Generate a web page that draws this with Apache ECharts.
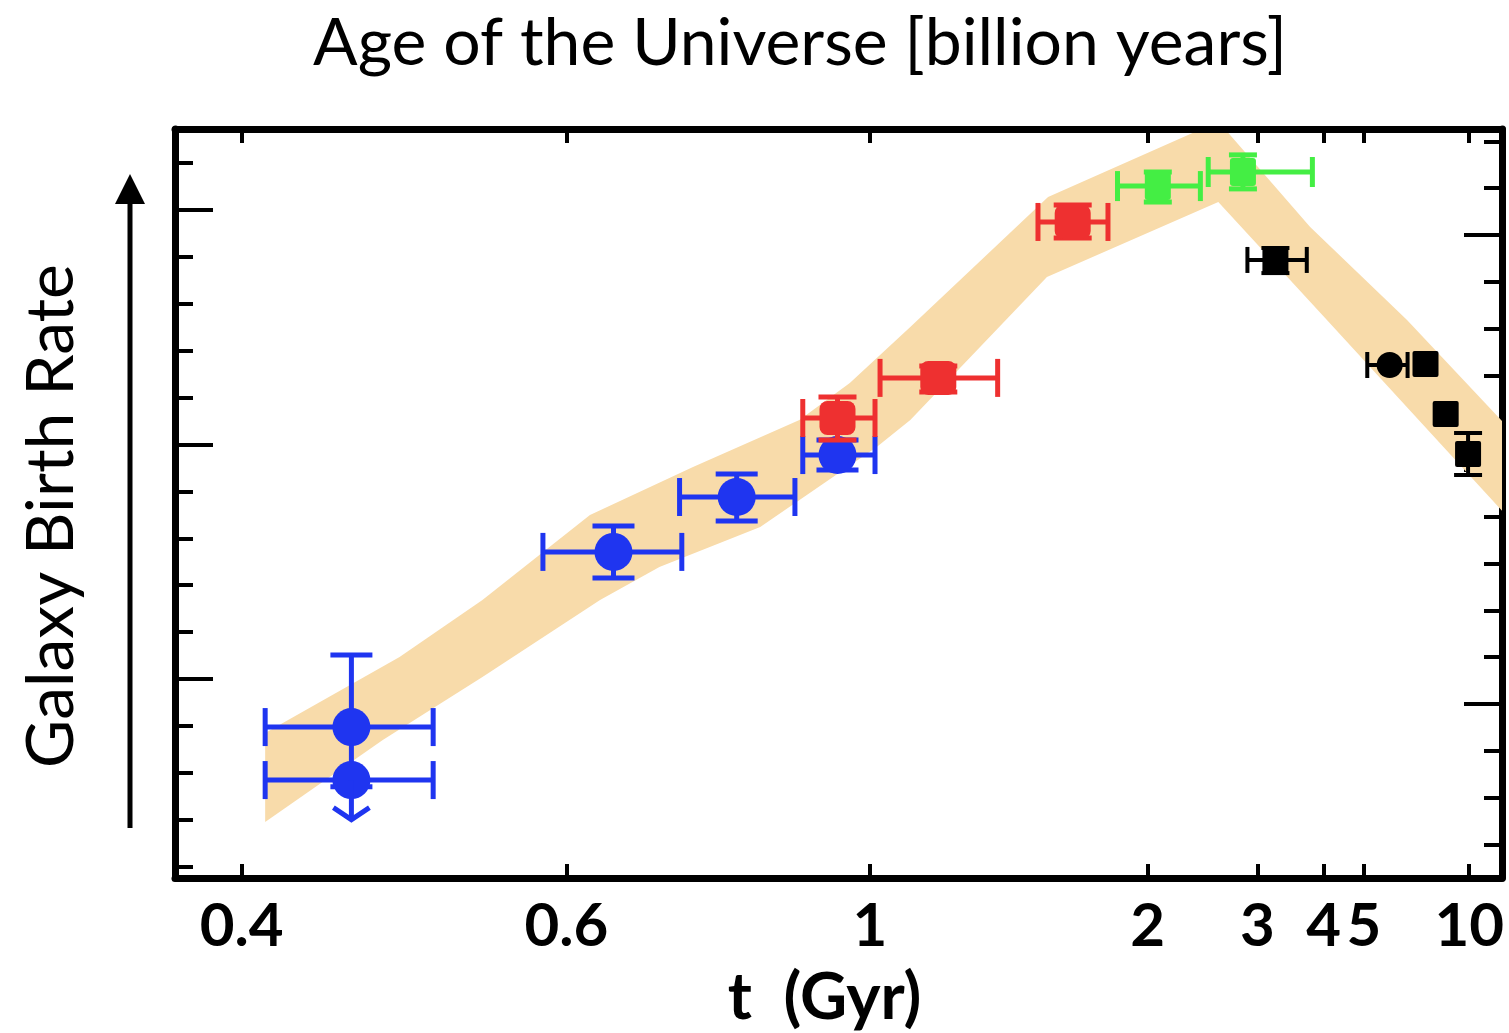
<!DOCTYPE html>
<html><head><meta charset="utf-8">
<script src="https://cdn.jsdelivr.net/npm/echarts/dist/echarts.min.js"></script>
<style>html,body{margin:0;padding:0;background:#fff}#chart{width:1509px;height:1033px}</style>
</head><body><div id="chart"></div>
<script>
// ---------- text ----------
const titleText = 'Age of the Universe [billion years]';
const xAxisName = 't  (Gyr)';
const yAxisName = 'Galaxy Birth Rate';

// ---------- x axis: redshift position, labelled with cosmic age ----------
const tickAgeLabels = ['0.4', '0.6', '1', '2', '3', '4', '5', '10'];
const tickRedshift  = [11.31, 8.41, 5.70, 3.22, 2.24, 1.65, 1.29, 0.35];

// ---------- y axis ticks (log birth rate) ----------
const leftMinorTicks  = [-3.8, -3.6, -3.4, -3.2, -3.0, -2.8, -2.6, -2.4, -2.2, -2.0, -1.8, -1.6, -1.4, -1.2, -1.0, -0.8];
const leftMajorTicks  = [-3, -2, -1];
const rightMinorTicks = [-3.707, -3.507, -3.307, -3.107, -2.907, -2.707, -2.507, -2.307, -2.107, -1.907, -1.707, -1.507, -1.307, -1.107, -0.907, -0.707];
const rightMajorTicks = [-3.107, -2.107, -1.107];

// ---------- shaded model band: [redshift, log rate] ----------
const bandUpper = [[11.10, -3.230], [9.90, -2.906], [9.16, -2.663], [8.20, -2.301], [7.28, -2.096], [6.33, -1.896], [5.88, -1.738], [5.34, -1.499], [4.11, -0.945], [2.82, -0.672], [2.50, -0.672], [1.77, -1.072], [0.905, -1.469], [0.057, -1.900]];
const bandLower = [[11.10, -3.610], [10.05, -3.260], [9.16, -2.991], [8.11, -2.663], [7.58, -2.522], [6.68, -2.352], [5.64, -2.011], [5.34, -1.896], [4.12, -1.286], [2.59, -0.966], [1.62, -1.469], [0.057, -2.283]];

// ---------- measurements: [z, logRate, zErrHigh, zErrLow, rateLow, rateHigh] ----------
const bluePoints = [
  [10.33, -3.205, 11.10, 9.60, -3.460, -2.898],
  [10.33, -3.431, 11.10, 9.60],
  [7.99, -2.458, 8.62, 7.38, -2.569, -2.348],
  [6.89, -2.224, 7.40, 6.37, -2.326, -2.126],
  [5.99, -2.045, 6.30, 5.655, -2.109, -1.981]
];
// upper limit: [z, logRate, arrowTip]
const blueUpperLimits = [[10.33, -3.431, -3.600]];
const redPoints = [
  [5.99, -1.887, 6.30, 5.655, -1.981, -1.797],
  [5.09, -1.716, 5.61, 4.56, -1.776, -1.665],
  [3.89, -1.051, 4.20, 3.575, -1.119, -0.979]
];
const greenPoints = [
  [3.13, -0.898, 3.49, 2.75, -0.966, -0.838],
  [2.37, -0.838, 2.68, 1.75, -0.910, -0.765]
];
const blackSquarePoints = [
  [2.08, -1.213, 2.33, 1.80, -1.269, -1.162],
  [0.74, -1.657],
  [0.56, -1.870],
  [0.36, -2.041, 0.36, 0.36, -2.130, -1.951]
];
const blackCirclePoints = [
  [1.06, -1.661, 1.26, 0.90]
];

const X_MIN = 0.057, X_MAX = 11.905;
const Y_MIN = -3.8486, Y_MAX = -0.6546;
const FONT = 'Lato';

function errRender(o) {
  return function (params, api) {
    const z = api.value(0), v = api.value(1);
    const zl = api.value(2), zh = api.value(3), vl = api.value(4), vh = api.value(5);
    const c = api.coord([z, v]);
    const st = { stroke: o.color, lineWidth: o.lw };
    const ch = [];
    const line = (x1, y1, x2, y2) => ch.push({ type: 'line', shape: { x1, y1, x2, y2 }, style: st });
    if (isFinite(zl) && isFinite(zh) && zl !== zh) {
      const a = api.coord([zl, v]), b = api.coord([zh, v]);
      line(a[0], c[1], b[0], c[1]);
      line(a[0], c[1] - o.xcap / 2, a[0], c[1] + o.xcap / 2);
      line(b[0], c[1] - o.xcap / 2, b[0], c[1] + o.xcap / 2);
    }
    if (isFinite(vl) && isFinite(vh) && vl !== vh) {
      const lo = api.coord([z, vl]), hi = api.coord([z, vh]);
      line(c[0], lo[1], c[0], hi[1]);
      line(c[0] - o.ycap / 2, lo[1], c[0] + o.ycap / 2, lo[1]);
      line(c[0] - o.ycap / 2, hi[1], c[0] + o.ycap / 2, hi[1]);
    }
    if (o.shape === 'circle') {
      ch.push({ type: 'circle', shape: { cx: c[0], cy: c[1], r: o.w / 2 }, style: { fill: o.color } });
    } else {
      ch.push({ type: 'rect', shape: { x: c[0] - o.w / 2, y: c[1] - o.h / 2, width: o.w, height: o.h, r: o.r || 0 }, style: { fill: o.color } });
    }
    return { type: 'group', children: ch };
  };
}

function limitRender(color, lw) {
  return function (params, api) {
    const c = api.coord([api.value(0), api.value(1)]);
    const t = api.coord([api.value(0), api.value(2)]);
    const st = { stroke: color, lineWidth: lw };
    return { type: 'group', children: [
      { type: 'line', shape: { x1: c[0], y1: c[1], x2: c[0], y2: t[1] }, style: st },
      { type: 'polyline', shape: { points: [[c[0] - 18, t[1] - 12], [c[0], t[1]], [c[0] + 18, t[1] - 12]] }, style: { stroke: color, lineWidth: lw, fill: null } }
    ] };
  };
}

function bandRender(params, api) {
  const pts = bandUpper.map(p => api.coord(p)).concat(bandLower.slice().reverse().map(p => api.coord(p)));
  return { type: 'polygon', shape: { points: pts }, style: { fill: '#F8DBAA' } };
}

const labelFor = v => {
  for (let i = 0; i < tickRedshift.length; i++) if (Math.abs(tickRedshift[i] - v) < 1e-6) return tickAgeLabels[i];
  return '';
};

const chart = echarts.init(document.getElementById('chart'), null, { renderer: 'canvas' });
const xBase = {
  type: 'value', inverse: true, min: X_MIN, max: X_MAX,
  splitLine: { show: false },
  axisLine: { show: true, onZero: false, lineStyle: { color: '#000', width: 7 } },
  axisTick: { show: true, inside: true, length: 14, customValues: tickRedshift, lineStyle: { color: '#000', width: 4 } }
};
const yBase = {
  type: 'value', min: Y_MIN, max: Y_MAX, splitLine: { show: false }, axisLabel: { show: false }
};
chart.setOption({
  backgroundColor: '#fff',
  animation: false,
  title: {
    text: titleText, left: 795, top: 6, textAlign: 'center',
    textStyle: { fontFamily: FONT, fontSize: 66, fontWeight: 'normal', color: '#000' }
  },
  grid: { left: 175, right: 7, top: 129, bottom: 155, containLabel: false, outerBoundsMode: 'none' },
  xAxis: [
    Object.assign({}, xBase, {
      position: 'bottom',
      name: xAxisName, nameLocation: 'middle', nameGap: 88,
      nameTextStyle: { fontFamily: FONT, fontSize: 65, color: '#000', fontWeight: 'bold', padding: [0, 28, 0, 0] },
      axisLabel: { show: true, margin: 19, customValues: tickRedshift, formatter: labelFor,
        fontFamily: FONT, fontSize: 60, fontWeight: 'bold', color: '#000' }
    }),
    Object.assign({}, xBase, { position: 'top', axisLabel: { show: false } })
  ],
  yAxis: [
    Object.assign({}, yBase, { position: 'left',
      axisLine: { show: true, onZero: false, lineStyle: { color: '#000', width: 7 } },
      axisTick: { show: true, inside: true, length: 18, customValues: leftMinorTicks, lineStyle: { color: '#000', width: 4 } } }),
    Object.assign({}, yBase, { position: 'left',
      axisLine: { show: false },
      axisTick: { show: true, inside: true, length: 38, customValues: leftMajorTicks, lineStyle: { color: '#000', width: 4 } } }),
    Object.assign({}, yBase, { position: 'right',
      axisLine: { show: true, onZero: false, lineStyle: { color: '#000', width: 7 } },
      axisTick: { show: true, inside: true, length: 18, customValues: rightMinorTicks, lineStyle: { color: '#000', width: 4 } } }),
    Object.assign({}, yBase, { position: 'right',
      axisLine: { show: false },
      axisTick: { show: true, inside: true, length: 38, customValues: rightMajorTicks, lineStyle: { color: '#000', width: 4 } } })
  ],
  graphic: [
    { type: 'line', shape: { x1: 130, y1: 828, x2: 130, y2: 195 }, style: { stroke: '#000', lineWidth: 5 } },
    { type: 'polygon', shape: { points: [[130, 174], [115, 204], [145, 204]] }, style: { fill: '#000' } },
    { type: 'text', x: 52, y: 516, rotation: Math.PI / 2,
      style: { text: yAxisName, fontFamily: FONT, fontSize: 66, fill: '#000',
        textAlign: 'center', textVerticalAlign: 'middle', align: 'center', verticalAlign: 'middle' } }
  ],
  series: [
    { type: 'custom', name: 'band', data: [bandUpper[0]], renderItem: bandRender, z: 1, silent: true },
    { type: 'custom', name: 'blue', data: bluePoints, z: 3,
      renderItem: errRender({ color: '#1F35F0', lw: 5, xcap: 38, ycap: 42, shape: 'circle', w: 38 }) },
    { type: 'custom', name: 'blueLimit', data: blueUpperLimits, z: 3, renderItem: limitRender('#1F35F0', 5) },
    { type: 'custom', name: 'red', data: redPoints, z: 4,
      renderItem: errRender({ color: '#EE3030', lw: 5, xcap: 38, ycap: 38, shape: 'rect', w: 36, h: 34, r: 8 }) },
    { type: 'custom', name: 'green', data: greenPoints, z: 4,
      renderItem: errRender({ color: '#44EE44', lw: 5, xcap: 30, ycap: 28, shape: 'rect', w: 26, h: 28, r: 3 }) },
    { type: 'custom', name: 'blackSq', data: blackSquarePoints, z: 4,
      renderItem: errRender({ color: '#000', lw: 4, xcap: 26, ycap: 28, shape: 'rect', w: 26, h: 26, r: 2 }) },
    { type: 'custom', name: 'blackCirc', data: blackCirclePoints, z: 4,
      renderItem: errRender({ color: '#000', lw: 4, xcap: 26, ycap: 26, shape: 'circle', w: 26 }) }
  ]
});
</script></body></html>
